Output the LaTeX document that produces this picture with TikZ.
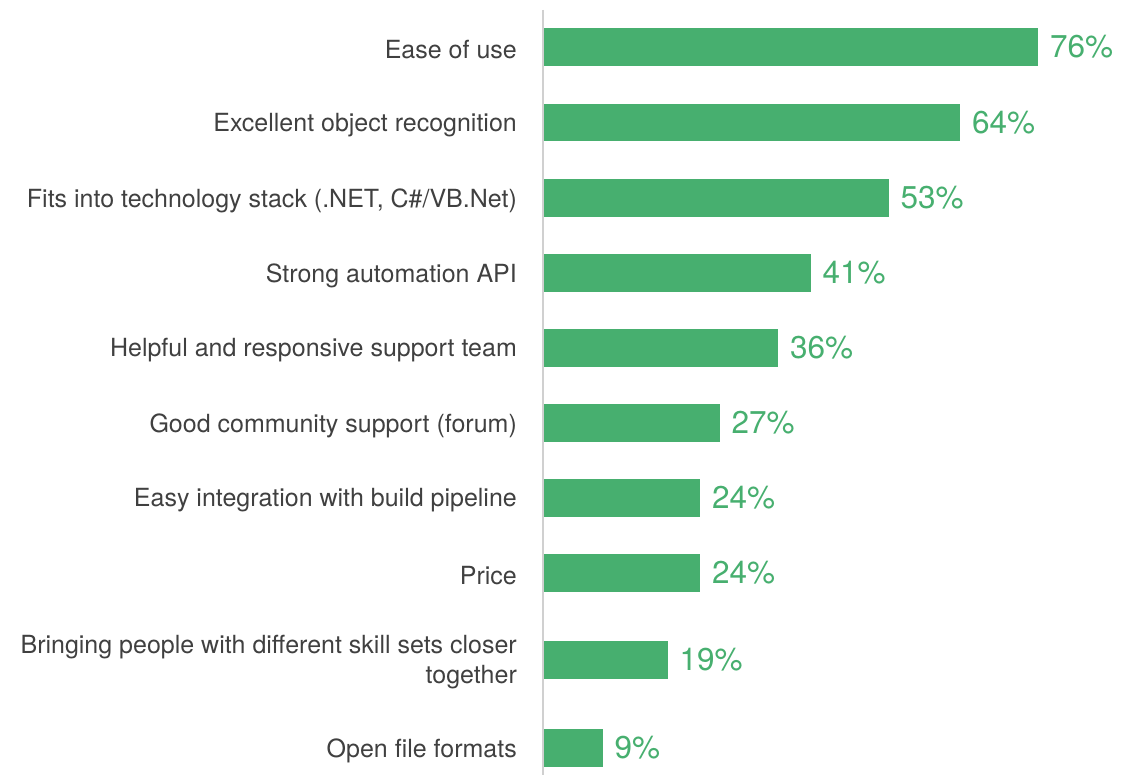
\documentclass[tikz,border=0pt]{standalone}
\usepackage{fontspec}
\setmainfont{TeX Gyre Heros}
\usetikzlibrary{positioning}
\definecolor{barGreen}{RGB}{71,175,111}
\definecolor{labelGray}{RGB}{64,64,64}
\definecolor{axisGray}{RGB}{208,208,208}

\begin{document}
\begin{tikzpicture}[x=1pt,y=-1pt,node distance=12pt,
                    hbar/.style={fill=barGreen,inner sep=0pt,outer sep=0pt,
                                 minimum height=37.5pt,anchor=west},
                    catlabel/.style={text=labelGray,align=right,inner sep=0pt,yshift=-2.5pt,
                                     font=\fontsize{25}{30}\selectfont},
                    pctlabel/.style={text=barGreen,inner sep=0pt,
                                     font=\fontsize{31.5}{36}\selectfont}]

  \useasboundingbox (0,0) rectangle (1123,775);

  % axis
  \coordinate (axtop) at (543,10);
  \coordinate (axbot) at (543,775);
  \draw[axisGray,line width=1.5pt] (axtop) -- (axbot);

  % bars
  \node[hbar,minimum width=76*6.5pt] (b1)  at (544,47)    {};
  \node[hbar,minimum width=64*6.5pt] (b2)  at (544,122.5) {};
  \node[hbar,minimum width=53*6.5pt] (b3)  at (544,198)   {};
  \node[hbar,minimum width=41*6.5pt] (b4)  at (544,273)   {};
  \node[hbar,minimum width=36*6.5pt] (b5)  at (544,348)   {};
  \node[hbar,minimum width=27*6.5pt] (b6)  at (544,423)   {};
  \node[hbar,minimum width=24*6.5pt] (b7)  at (544,498)   {};
  \node[hbar,minimum width=24*6.5pt] (b8)  at (544,573)   {};
  \node[hbar,minimum width=19*6.5pt] (b9)  at (544,660)   {};
  \node[hbar,minimum width=9*6.5pt]  (b10) at (544,748)   {};

  % categories
  \node[catlabel] (c1)  [left=27pt of b1.west]  {Ease of use};
  \node[catlabel] (c2)  [left=27pt of b2.west]  {Excellent object recognition};
  \node[catlabel] (c3)  [left=27pt of b3.west]  {Fits into technology stack (.NET, C\#/VB.Net)};
  \node[catlabel] (c4)  [left=27pt of b4.west]  {Strong automation API};
  \node[catlabel] (c5)  [left=27pt of b5.west]  {Helpful and responsive support team};
  \node[catlabel] (c6)  [left=27pt of b6.west]  {Good community support (forum)};
  \node[catlabel] (c7)  [left=27pt of b7.west]  {Easy integration with build pipeline};
  \node[catlabel] (c8)  [left=27pt of b8.west]  {Price};
  \node[catlabel] (c9)  [left=27pt of b9.west]  {Bringing people with different skill sets closer\\together};
  \node[catlabel] (c10) [left=27pt of b10.west] {Open file formats};

  % values
  \node[pctlabel] (v1)  [right=of b1]  {76\%};
  \node[pctlabel] (v2)  [right=of b2]  {64\%};
  \node[pctlabel] (v3)  [right=of b3]  {53\%};
  \node[pctlabel] (v4)  [right=of b4]  {41\%};
  \node[pctlabel] (v5)  [right=of b5]  {36\%};
  \node[pctlabel] (v6)  [right=of b6]  {27\%};
  \node[pctlabel] (v7)  [right=of b7]  {24\%};
  \node[pctlabel] (v8)  [right=of b8]  {24\%};
  \node[pctlabel] (v9)  [right=of b9]  {19\%};
  \node[pctlabel] (v10) [right=of b10] {9\%};
\end{tikzpicture}
\end{document}
